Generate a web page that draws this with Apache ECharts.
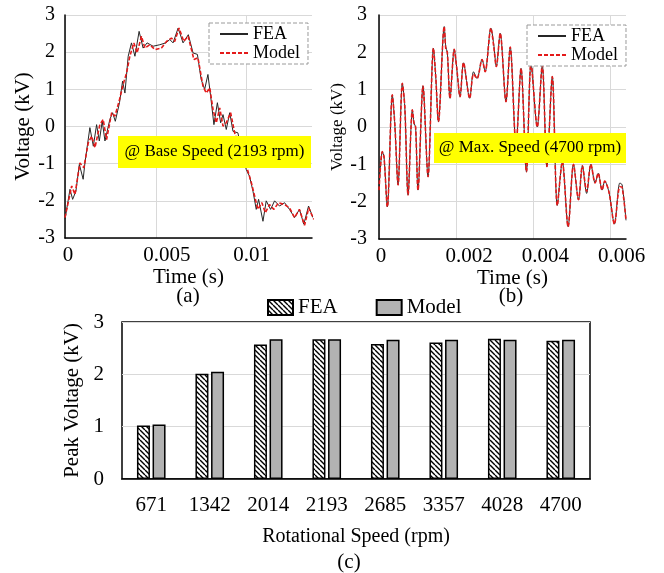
<!DOCTYPE html>
<html>
<head>
<meta charset="utf-8">
<script src="https://cdn.jsdelivr.net/npm/echarts@6/dist/echarts.min.js"></script>
<style>
html,body{margin:0;padding:0;background:#fff;}
.c{position:absolute;left:0;top:0;width:664px;height:573px;}
</style>
</head>
<body>
<div id="ca" class="c"></div>
<div id="cb" class="c"></div>
<div id="cc" class="c"></div>
<script>
// ---------- (a) Base speed waveform ----------
const timeA_FEA = [0, 0.000275, 0.00042, 0.0006, 0.00079, 0.001, 0.0011, 0.00137, 0.00156, 0.00174, 0.00189, 0.00205, 0.0022, 0.00247, 0.00262, 0.00277, 0.003, 0.00317, 0.0033, 0.00348, 0.00366, 0.00385, 0.00408, 0.0043, 0.00452, 0.00485, 0.00522, 0.00555, 0.00577, 0.00595, 0.00623, 0.0065, 0.00679, 0.00705, 0.00729, 0.0075, 0.00769, 0.00787, 0.00802, 0.0082, 0.00839, 0.00857, 0.0087, 0.00888, 0.00907, 0.00925, 0.00952, 0.0097, 0.00998, 0.01016, 0.01035, 0.01053, 0.01066, 0.0109, 0.01108, 0.01132, 0.01154, 0.01181, 0.01209, 0.01236, 0.01264, 0.01291, 0.01315, 0.01341, 0.01365];
const voltA_FEA = [-2.5, -1.69, -1.96, -1.74, -1.02, -1.42, -0.97, -0.03, -0.53, 0.05, -0.39, 0.14, -0.39, 0.19, 0.37, 0.14, 0.64, 1.22, 0.9, 1.89, 2.25, 1.89, 2.56, 2.11, 2.25, 2.16, 2.2, 2.25, 2.34, 2.25, 2.65, 2.25, 2.47, 1.98, 1.94, 1.26, 1.0, 1.4, 0.81, 0.05, 0.64, 0.1, 0.32, -0.08, 0.37, -0.13, -0.17, -0.6, -1.16, -1.34, -1.74, -2.23, -1.96, -2.55, -2.0, -2.23, -2.0, -2.14, -2.05, -2.23, -2.45, -2.23, -2.63, -2.14, -2.45];
const timeA_Model = [0, 0.00037, 0.00055, 0.00082, 0.00104, 0.00128, 0.00147, 0.00165, 0.00192, 0.0021, 0.00229, 0.00257, 0.00275, 0.00298, 0.0032, 0.00339, 0.00357, 0.00379, 0.00397, 0.00421, 0.0044, 0.00467, 0.00495, 0.00531, 0.00559, 0.00586, 0.00604, 0.00628, 0.00654, 0.00678, 0.0071, 0.00732, 0.0076, 0.00778, 0.00797, 0.00815, 0.00833, 0.00852, 0.0087, 0.00888, 0.00912, 0.00934, 0.0097, 0.01007, 0.01026, 0.01044, 0.01062, 0.01084, 0.01103, 0.01126, 0.0115, 0.01176, 0.01209, 0.01236, 0.01264, 0.01291, 0.01319, 0.01342, 0.0137];
const voltA_Model = [-2.45, -1.6, -1.83, -0.98, -1.11, -0.44, -0.26, -0.57, 0.05, 0.19, -0.35, 0.37, 0.28, 0.68, 1.13, 1.44, 1.89, 2.25, 1.98, 2.43, 2.11, 2.2, 2.07, 2.11, 2.29, 2.38, 2.29, 2.65, 2.29, 2.43, 1.8, 1.85, 1.08, 0.9, 1.04, 0.46, 0.1, 0.5, 0.01, 0.1, 0.37, -0.17, -0.7, -1.2, -1.51, -1.87, -2.23, -2.05, -2.32, -2.1, -2.23, -2.05, -2.1, -2.19, -2.45, -2.23, -2.66, -2.19, -2.5];
const ticksA = ['0', '0.005', '0.01'];

// ---------- (b) Max speed waveform ----------
const timeB = [0, 0.000086, 0.00013, 0.000216, 0.000345, 0.000408, 0.000494, 0.000605, 0.000668, 0.000753, 0.000865, 0.000909, 0.000948, 0.00101, 0.00114, 0.00127, 0.00141, 0.00147, 0.00154, 0.00169, 0.00173, 0.00177, 0.00184, 0.00195, 0.00201, 0.0021, 0.00219, 0.00235, 0.00245, 0.00254, 0.00267, 0.00275, 0.0029, 0.00297, 0.00304, 0.00314, 0.00329, 0.0034, 0.00355, 0.00368, 0.00382, 0.00394, 0.0041, 0.00423, 0.00435, 0.00449, 0.00462, 0.00475, 0.0049, 0.00504, 0.00517, 0.00527, 0.00538, 0.00549, 0.0056, 0.00568, 0.00578, 0.00585, 0.00596, 0.0061, 0.00624, 0.0063, 0.0064];
const voltB_FEA = [-1.69, -0.66, -0.8, -2.14, 0.86, 0.1, -1.55, 1.17, 0.55, -1.82, 0.46, 0.1, 0.0, -1.69, 1.1, -1.33, 2.11, 1.35, 0.14, 2.69, 2.15, 2.0, 0.77, 2.08, 1.62, 0.81, 1.72, 0.77, 1.48, 1.3, 1.81, 1.48, 2.65, 2.24, 1.62, 2.51, 0.68, 2.14, -0.5, 1.57, -1.2, 1.71, 0.0, 1.66, -1.06, 1.35, -2.1, -0.93, -2.67, -1.0, -1.95, -1.04, -1.78, -1.0, -1.5, -1.24, -1.69, -1.45, -1.75, -2.6, -1.5, -1.55, -2.5];
const voltB_Model = [-1.69, -0.66, -0.8, -2.14, 0.86, 0.1, -1.55, 1.17, 0.55, -1.82, 0.46, 0.1, 0.0, -1.69, 1.1, -1.33, 2.11, 1.35, 0.14, 2.69, 2.1, 2.0, 0.77, 2.08, 1.62, 0.81, 1.72, 0.77, 1.42, 1.3, 1.81, 1.48, 2.65, 2.18, 1.62, 2.51, 0.68, 2.14, -0.5, 1.57, -1.2, 1.71, 0.0, 1.66, -1.06, 1.35, -2.1, -0.93, -2.67, -1.0, -1.95, -1.04, -1.72, -1.0, -1.5, -1.24, -1.69, -1.45, -1.75, -2.6, -1.6, -1.62, -2.5];
const ticksB = ['0', '0.002', '0.004', '0.006'];

// ---------- (c) Peak voltage bars ----------
const speeds = ['671', '1342', '2014', '2193', '2685', '3357', '4028', '4700'];
const peakFEA = [1.02, 2.01, 2.57, 2.67, 2.58, 2.61, 2.68, 2.64];
const peakModel = [1.04, 2.05, 2.67, 2.67, 2.66, 2.66, 2.66, 2.66];

const FONT = '"Liberation Serif", "Times New Roman", serif';
const pair = (ts, vs) => ts.map((t, i) => [t, vs[i]]);

function hatchPattern() {
  const c = document.createElement('canvas');
  c.width = 5; c.height = 5;
  const g = c.getContext('2d');
  g.fillStyle = '#fff'; g.fillRect(0, 0, 5, 5);
  g.strokeStyle = '#000'; g.lineWidth = 1.4;
  g.beginPath();
  for (let k = -1; k <= 1; k++) { g.moveTo(k * 5, 0); g.lineTo(k * 5 + 5, 5); }
  g.stroke();
  return { image: c, repeat: 'repeat' };
}

function waveOption(cfg) {
  const rich = {};
  cfg.shifts.forEach((s, i) => { rich['p' + i] = { padding: [0, 0, 0, s * 2], fontSize: 21, fontFamily: FONT, color: '#000' }; });
  return {
    animation: false,
    textStyle: { fontFamily: FONT, color: '#000' },
    grid: cfg.grid,
    legend: {
      data: ['FEA', 'Model'], orient: 'vertical', left: cfg.legend.left, top: cfg.legend.top,
      itemWidth: 28, itemHeight: 12, itemGap: 1,
      padding: [2, 8, 2, 10],
      itemStyle: { color: 'transparent', borderColor: 'transparent', borderWidth: 0, opacity: 0 },
      borderColor: '#9a9a9a', borderWidth: 1, borderType: 'dashed', backgroundColor: '#fff',
      textStyle: { fontSize: 18, fontFamily: FONT, color: '#000', lineHeight: 18 }
    },
    xAxis: {
      type: 'value', min: 0, max: cfg.xmax, interval: cfg.xint,
      name: 'Time (s)', nameLocation: 'middle', nameGap: 27,
      nameTextStyle: { fontSize: 21, fontFamily: FONT, color: '#000', padding: cfg.namePad },
      axisLine: { onZero: false, lineStyle: { color: '#000', width: 1.5 } },
      axisTick: { show: false },
      splitLine: { show: true, showMaxLine: false, lineStyle: { color: '#d9d9d9', width: 1 } },
      axisLabel: {
        margin: 7, showMaxLabel: false, fontSize: 21, color: '#000', fontFamily: FONT, rich: rich,
        formatter: (v, i) => (i < cfg.ticks.length ? '{p' + i + '|' + cfg.ticks[i] + '}' : '')
      }
    },
    yAxis: {
      type: 'value', min: -3, max: 3, interval: 1,
      name: 'Voltage (kV)', nameLocation: 'middle', nameGap: cfg.yNameGap,
      nameTextStyle: { fontSize: cfg.yNameSize, fontFamily: FONT, color: '#000' },
      axisLine: { show: true, lineStyle: { color: '#000', width: 1.5 } },
      axisTick: { show: false },
      splitLine: { show: true, lineStyle: { color: '#d9d9d9', width: 1 } },
      axisLabel: { margin: cfg.yLabelMargin, fontSize: 20, color: '#000', fontFamily: FONT }
    },
    graphic: [
      {
        type: 'rect', z: 100, shape: cfg.box,
        style: { fill: '#ffff00' }
      },
      {
        type: 'text', z: 101, x: cfg.box.x + cfg.box.width / 2, y: cfg.box.y + cfg.box.height / 2,
        style: { text: cfg.boxText, fontSize: 17, fontFamily: FONT, fill: '#000', align: 'center', verticalAlign: 'middle' }
      },
      {
        type: 'text', z: 101, x: cfg.sub.x, y: cfg.sub.y,
        style: { text: cfg.sub.text, fontSize: 21, fontFamily: FONT, fill: '#000', align: 'center', verticalAlign: 'middle' }
      }
    ],
    series: [
      {
        name: 'FEA', type: 'line', data: cfg.fea, showSymbol: false, symbol: 'none', smooth: cfg.smooth,
        lineStyle: { color: '#262626', width: 1 }, itemStyle: { color: '#262626' }, z: 2
      },
      {
        name: 'Model', type: 'line', data: cfg.model, showSymbol: false, symbol: 'none', smooth: cfg.smooth,
        lineStyle: { color: '#e41a1a', width: 1.6, type: [4, 2] }, itemStyle: { color: '#e41a1a' }, z: 3
      }
    ]
  };
}

const chartA = echarts.init(document.getElementById('ca'));
chartA.setOption(waveOption({
  grid: { left: 65, top: 15, width: 247, height: 223 },
  legend: { left: 209, top: 23 },
  xmax: 0.0136, xint: 0.005, ticks: ticksA, shifts: [3, 11, 5], namePad: [0, 0, 0, 0],
  yNameGap: 25, yNameSize: 21, yLabelMargin: 10,
  box: { x: 118, y: 136, width: 193, height: 32 }, boxText: '@ Base Speed (2193 rpm)',
  sub: { x: 188, y: 296, text: '(a)' },
  fea: pair(timeA_FEA, voltA_FEA), model: pair(timeA_Model, voltA_Model), smooth: false
}));

const chartB = echarts.init(document.getElementById('cb'));
chartB.setOption(waveOption({
  grid: { left: 379, top: 15, width: 247, height: 224 },
  legend: { left: 527, top: 25 },
  xmax: 0.0064, xint: 0.002, ticks: ticksB, shifts: [2, 13, 12, 11], namePad: [0, 0, 0, 20],
  yNameGap: 23, yNameSize: 17, yLabelMargin: 12,
  box: { x: 434, y: 133, width: 192, height: 30 }, boxText: '@ Max. Speed (4700 rpm)',
  sub: { x: 511, y: 296, text: '(b)' },
  fea: pair(timeB, voltB_FEA), model: pair(timeB, voltB_Model), smooth: 0.3
}));

const chartC = echarts.init(document.getElementById('cc'));
chartC.setOption({
  animation: false,
  textStyle: { fontFamily: FONT, color: '#000' },
  grid: { left: 122, top: 322, width: 468, height: 157, show: true, borderColor: '#000', borderWidth: 1.5 },
  legend: {
    data: ['FEA', 'Model'], left: 267, top: 297, icon: 'rect', padding: 0,
    itemWidth: 25, itemHeight: 15, itemGap: 38,
    textStyle: { fontSize: 21, fontFamily: FONT, color: '#000' }
  },
  xAxis: {
    type: 'category', data: speeds,
    name: 'Rotational Speed (rpm)', nameLocation: 'middle', nameGap: 48,
    nameTextStyle: { fontSize: 20, fontFamily: FONT, color: '#000' },
    axisLine: { lineStyle: { color: '#000', width: 1.5 } },
    axisTick: { show: false },
    axisLabel: { margin: 16, fontSize: 21, color: '#000', fontFamily: FONT }
  },
  yAxis: {
    type: 'value', min: 0, max: 3, interval: 1,
    name: 'Peak Voltage (kV)', nameLocation: 'middle', nameGap: 36,
    nameTextStyle: { fontSize: 21, fontFamily: FONT, color: '#000' },
    axisLine: { show: false },
    axisTick: { show: false },
    splitLine: { show: true, lineStyle: { color: '#d9d9d9', width: 1 } },
    axisLabel: { margin: 18, fontSize: 21, color: '#000', fontFamily: FONT }
  },
  graphic: [
    { type: 'text', x: 349, y: 562, style: { text: '(c)', fontSize: 21, fontFamily: FONT, fill: '#000', align: 'center', verticalAlign: 'middle' } }
  ],
  series: [
    {
      name: 'FEA', type: 'bar', data: peakFEA, barWidth: 13, barGap: '20%',
      itemStyle: { color: hatchPattern(), borderColor: '#000', borderWidth: 1.5 }
    },
    {
      name: 'Model', type: 'bar', data: peakModel, barWidth: 13,
      itemStyle: { color: '#b2b2b2', borderColor: '#000', borderWidth: 1.5 }
    }
  ]
});
</script>
</body>
</html>
